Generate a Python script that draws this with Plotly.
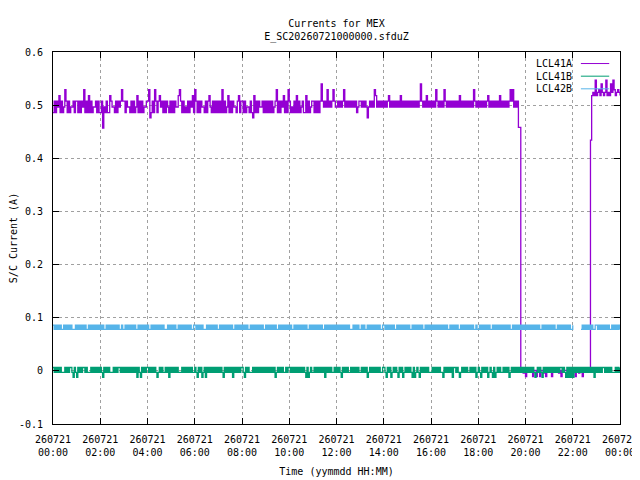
import pandas as pd
import plotly.graph_objects as go

# sample times: one reading every 3 minutes from 2026-07-21 00:00 to 2026-07-22 00:00
START = "2026-07-21 00:00"
STEP = "3min"

# each string = one hour (20 readings), one character per reading, decoded with the level tables
LCL41A_LEVELS = {"0": 0.457, "1": 0.476, "2": 0.486, "3": 0.4965, "4": 0.5075,
                 "5": 0.518, "9": 0.524, "6": 0.529, "7": 0.540, "8": 0.547,
                 "h": 0.458, "r": 0.434, "z": 0.001, "w": -0.004, "v": -0.011}
LCL41A_HOURS = [
    "24243 52423 64242 33424", "42424 36242 52423 34242", "24032 42254 33242 43464",
    "42433 24242 35242 42334", "46124 26424 53424 24324", "24243 35642 42324 24352",
    "64242 43324 24532 42424", "24262 42352 42433 24524", "42423 32421 52424 33424",
    "24242 42346 24243 52426", "42324 25242 34225 24234", "42424 24743 43634 34643",
    "34343 46343 43434 34234", "43434 31343 43653 43434", "34345 34343 43435 34343",
    "43434 34343 47434 35343", "43436 43434 36434 34343", "43435 34343 43434 36434",
    "34343 43453 43434 34353", "43434 34646 3434h hzzwz", "vzzzz zvzzv zzvzz wzvzz",
    "zzvzz zzzwz vzzzz zzvzz", "zzvzz wzzvz zzzzz r5958", "59657 95985 95798 65969",
]
LCL41A_LAST = "5"

LCL41B_LEVELS = {"a": 0.0063, "b": -0.003, "c": -0.012}
LCL41B_HOURS = [
    "ababa babbb ababa abcab", "cabab aabab bbaba babab", "abcab ababb babab aabab",
    "ababa babab acabc ababa", "ababa babcb ababb abaca", "babab abbba babab ababb",
    "abcab acbac ababa babab", "ababc ababa bacab ababa", "abcab abbba babab ababa",
    "babab abacb ababa bbaba", "ababa babab ababc acbab", "babab ababa cabab abbab",
    "ababc ababa bbaba babab", "babab acbab ababa babba", "abcab acbab abcab acbab",
    "ababc acbab cabab ababb", "babab ababb cabab abaca", "ababc babab abbab abacb",
    "abcab abacb abcac babab", "babab acbab ababa babab", "ababa babcb ababc ababa",
    "babab ababa ababc acaca", "cabab ababa babab abaca", "babab aabab ababb babab",
]
LCL41B_LAST = "a"

LCL42B_LEVELS = {"p": 0.086, "q": 0.078, "n": None}
LCL42B_HOURS = [
    "pqpqp qpqqp qpqpq pqqqp", "qpqpq pqpqq pqpqp qpqpq", "pqpqq pqpqp qpqpq pqqpq",
    "qpqpq pqpqp qqpqp qpqpq", "pqqpq pqpqp qpqpq qqpqp", "qpqpq qpqpq pqpqp qpqqp",
    "pqpqp qpqqq pqpqp qpqpq", "qpqpq pqpqp qpqqp qpqpq", "pqpqp qqpqp qpqpq pqpqq",
    "pqpqp qpqpq qpqpq pqpqp", "qpqqp qpqpq pqpqp qqpqp", "qpqpq pqpqq pqpqp qpqpq",
    "pqpqp qpqpq pqqqp qpqpq", "qpqpq qpqpq pqpqp qpqqp", "pqpqp qpqpq qpqpq pqpqp",
    "qpqqp qpqpq pqpqq pqpqp", "qpqpq pqpqp qpqpq qpqpq", "pqpqq pqpqp qpqpq pqqpq",
    "qpqpq pqpqp qqpqp qpqpq", "pqpqp qpqqp qpqpq pqpqp", "qpqpq pqpqp qpqqp qpqpq",
    "pqpqp qqpqp qpqpq pqpqq", "pnnnn nnqpq pqpqp qpqqp", "pqpqp qpqpq pqqpq pqpqp",
]
LCL42B_LAST = "q"

X_TICKS = ["2026-07-21 00:00", "2026-07-21 02:00", "2026-07-21 04:00", "2026-07-21 06:00",
           "2026-07-21 08:00", "2026-07-21 10:00", "2026-07-21 12:00", "2026-07-21 14:00",
           "2026-07-21 16:00", "2026-07-21 18:00", "2026-07-21 20:00", "2026-07-21 22:00",
           "2026-07-22 00:00"]
X_LABELS = ["260721<br>00:00", "260721<br>02:00", "260721<br>04:00", "260721<br>06:00",
            "260721<br>08:00", "260721<br>10:00", "260721<br>12:00", "260721<br>14:00",
            "260721<br>16:00", "260721<br>18:00", "260721<br>20:00", "260721<br>22:00",
            "260722<br>00:00"]
Y_TICKS = [0.6, 0.5, 0.4, 0.3, 0.2, 0.1, 0, -0.1]
Y_LABELS = ["0.6", "0.5", "0.4", "0.3", "0.2", "0.1", "0", "-0.1"]


def decode(hours, last, levels):
    codes = "".join("".join(hours).split()) + last
    return [levels[c] for c in codes]


series = [
    ("LCL41A", decode(LCL41A_HOURS, LCL41A_LAST, LCL41A_LEVELS), "#9400d3"),
    ("LCL41B", decode(LCL41B_HOURS, LCL41B_LAST, LCL41B_LEVELS), "#009e73"),
    ("LCL42B", decode(LCL42B_HOURS, LCL42B_LAST, LCL42B_LEVELS), "#56b4e9"),
]

fig = go.Figure()
for name, vals, col in series:
    times = pd.date_range(START, periods=len(vals), freq=STEP)
    fig.add_scatter(x=times, y=vals, mode="lines", name=name,
                    line=dict(color=col, width=1.3, simplify=False, shape="hv"))

# gnuplot style key: text first, line sample to the right
key_y = [0.969, 0.935, 0.901]
for (name, vals, col), ky in zip(series, key_y):
    fig.add_annotation(x=0.919, y=ky, xref="paper", yref="paper", text=name,
                       showarrow=False, xanchor="right", yanchor="middle",
                       font=dict(size=10, color="black"))
    fig.add_shape(type="line", xref="paper", yref="paper", x0=0.931, x1=0.981,
                  y0=ky, y1=ky, line=dict(color=col, width=1))

axis_style = dict(showline=True, linecolor="black", linewidth=1, mirror="allticks",
                  ticks="inside", ticklen=6, tickcolor="black", tickwidth=1,
                  showgrid=True, gridcolor="#a0a0a0", gridwidth=1, griddash="3px,3px",
                  zeroline=False, automargin=False,
                  tickfont=dict(size=10, color="black"))

fig.update_xaxes(range=[X_TICKS[0], X_TICKS[-1]], tickmode="array", tickvals=X_TICKS,
                 ticktext=X_LABELS, ticklabelstandoff=6, ticklabeloverflow="allow",
                 title=dict(text="Time (yymmdd HH:MM)", standoff=10,
                            font=dict(size=10, color="black")), **axis_style)
fig.update_yaxes(range=[-0.1, 0.6], tickmode="array", tickvals=Y_TICKS,
                 ticktext=Y_LABELS, ticklabelstandoff=7,
                 title=dict(text="S/C Current (A)", standoff=2,
                            font=dict(size=10, color="black")), **axis_style)

# the page adds an 8px body margin, so the figure is drawn 8px smaller
fig.update_layout(
    width=632, height=472,
    margin=dict(l=45, r=20, t=44, b=56),
    paper_bgcolor="white", plot_bgcolor="white",
    font=dict(family="DejaVu Sans Mono", size=10, color="black"),
    title=dict(text="Currents for MEX<br>E_SC20260721000000.sfduZ", x=0.5, xref="paper",
               xanchor="center", y=1 - 19 / 472, yref="container", yanchor="middle",
               font=dict(size=10, color="black")),
    showlegend=False,
)

fig.write_html("out.html")
